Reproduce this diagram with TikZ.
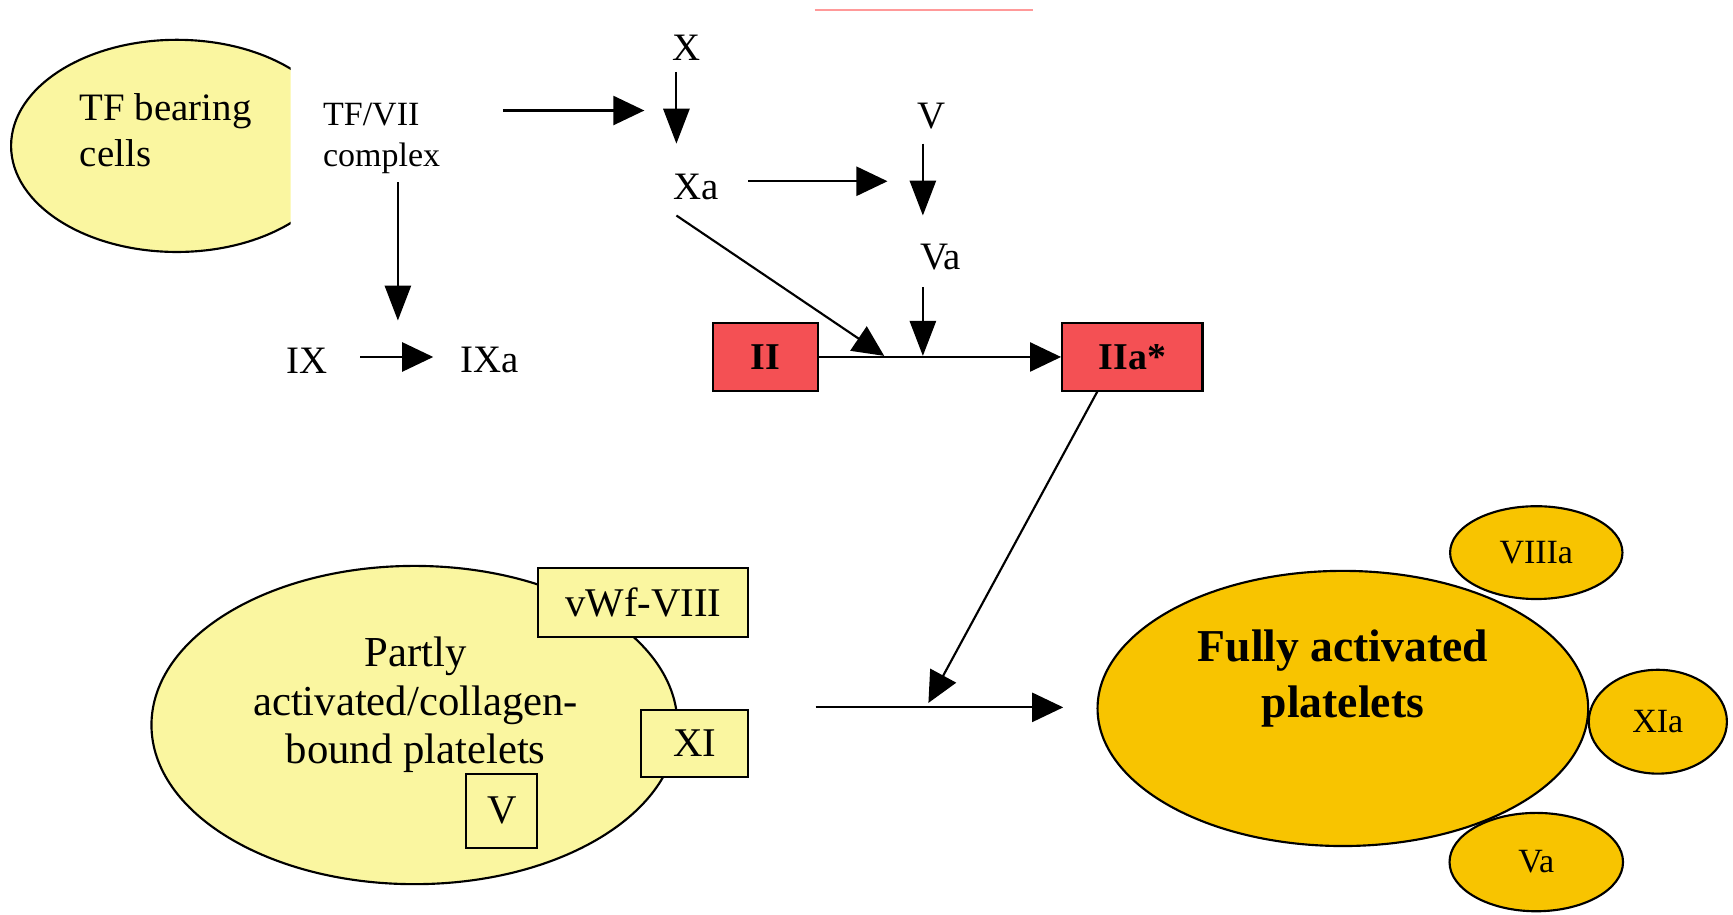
\documentclass[tikz,border=0pt]{standalone}
\usepackage{fontspec}
\setmainfont{Liberation Serif}
\usetikzlibrary{arrows.meta,shapes.geometric}
\definecolor{paleY}{RGB}{250,246,160}
\definecolor{goldY}{RGB}{248,196,0}
\definecolor{boxR}{RGB}{244,80,84}
\tikzset{
  harr/.style={-{Triangle[length=16pt,width=15pt]}, line width=1.1pt},
  varr/.style={-{Triangle[length=18pt,width=13.5pt]}, line width=1.1pt},
  lbl/.style={inner sep=0pt, font=\fontsize{20}{24}\selectfont},
  smlbl/.style={inner sep=0pt, font=\fontsize{17.5}{21}\selectfont},
  redbox/.style={draw, line width=1.1pt, fill=boxR, rectangle, inner sep=0pt, minimum height=1.24cm, font=\fontsize{19.5}{22}\selectfont\bfseries},
  ybox/.style={draw, line width=1.1pt, fill=paleY, rectangle, inner sep=0pt, font=\fontsize{21}{25}\selectfont},
  yell/.style={draw, line width=1.1pt, ellipse, inner sep=0pt},
}
\begin{document}
\begin{tikzpicture}[x=0.02cm, y=-0.02cm]
\useasboundingbox (0,0) rectangle (1568,827);
% faint remnant line at top
\draw[red!40, line width=1.2pt] (737,9) -- (935,9);
% TF bearing cells (clipped ellipse)
\begin{scope}
  \clip (0,0) rectangle (263,300);
  \node[yell, fill=paleY, minimum width=6cm, minimum height=3.84cm] (tfcells) at (160,132) {};
\end{scope}
\node[lbl, align=left, anchor=west] (tftext) at (72,118) {TF bearing\\cells};
\node[smlbl, align=left, anchor=west] (tfvii) at (292,125) {TF/VII\\complex};
% top cascade labels
\node[lbl] (X) at (621,43) {X};
\node[lbl] (Xa) at (630,169) {Xa};
\node[lbl] (V) at (843,105) {V};
\node[lbl] (Va) at (851,233) {Va};
\node[lbl] (IX) at (278,326) {IX};
\node[lbl] (IXa) at (443,326) {IXa};
\node[redbox, minimum width=1.9cm] (II) at (692.5,323) {II};
\node[redbox, minimum width=2.54cm] (IIa) at (1024.5,323) {IIa*};
% coordinates for free arrow ends
\coordinate (c1s) at (455,100); \coordinate (c1e) at (583,100);
\coordinate (c2s) at (612,65);  \coordinate (c2e) at (612,130);
\coordinate (c3s) at (677,164); \coordinate (c3e) at (803,164);
\coordinate (c4s) at (835,130); \coordinate (c4e) at (835,195);
\coordinate (c5s) at (835,260); \coordinate (c5e) at (835,322);
\coordinate (c6s) at (612,195); \coordinate (c6e) at (800,322);
\coordinate (c7s) at (360,165); \coordinate (c7e) at (360,290);
\coordinate (c8s) at (326,323); \coordinate (c8e) at (392,323);
\coordinate (c9s) at (993,354); \coordinate (c9e) at (840,636);
\coordinate (c10s) at (738,640); \coordinate (c10e) at (962,640);
\draw[harr] (c1s) -- (c1e);
\draw[varr] (c2s) -- (c2e);
\draw[harr] (c3s) -- (c3e);
\draw[varr] (c4s) -- (c4e);
\draw[varr] (c5s) -- (c5e);
\draw[harr] (c6s) -- (c6e);
\draw[varr] (c7s) -- (c7e);
\draw[harr] (c8s) -- (c8e);
\draw[harr] (II.east) -- (IIa.west);
\draw[harr] (c9s) -- (c9e);
\draw[harr] (c10s) -- (c10e);
% partly activated platelets
\node[yell, fill=paleY, minimum width=9.52cm, minimum height=5.76cm] (partly) at (375,656) {};
\node[inner sep=0pt, align=center, font=\fontsize{22}{25}\selectfont] (partlytext) at (376,638) {Partly\\activated/collagen-\\bound platelets};
\node[ybox, minimum width=3.8cm, minimum height=1.24cm] (vwf) at (582,545) {vWf-VIII};
\node[ybox, minimum width=1.94cm, minimum height=1.22cm] (xi) at (628.5,672.5) {XI};
\node[ybox, minimum width=1.28cm, minimum height=1.34cm] (vbox) at (454,733.5) {V};
% fully activated platelets
\node[yell, fill=goldY, minimum width=3.12cm, minimum height=1.68cm, font=\fontsize{17.5}{21}\selectfont] (viiia) at (1390,500) {VIIIa};
\node[yell, fill=goldY, minimum width=3.14cm, minimum height=1.78cm, font=\fontsize{17.5}{21}\selectfont] (vaell) at (1390,780) {Va};
\node[yell, fill=goldY, minimum width=2.5cm, minimum height=1.88cm, font=\fontsize{17.5}{21}\selectfont] (xia) at (1500,653) {XIa};
\node[yell, fill=goldY, minimum width=8.88cm, minimum height=4.98cm] (fully) at (1215,641) {};
\node[inner sep=0pt, align=center, font=\fontsize{23.5}{29}\selectfont\bfseries] (fullytext) at (1215,614) {Fully activated\\platelets};
\end{tikzpicture}
\end{document}
